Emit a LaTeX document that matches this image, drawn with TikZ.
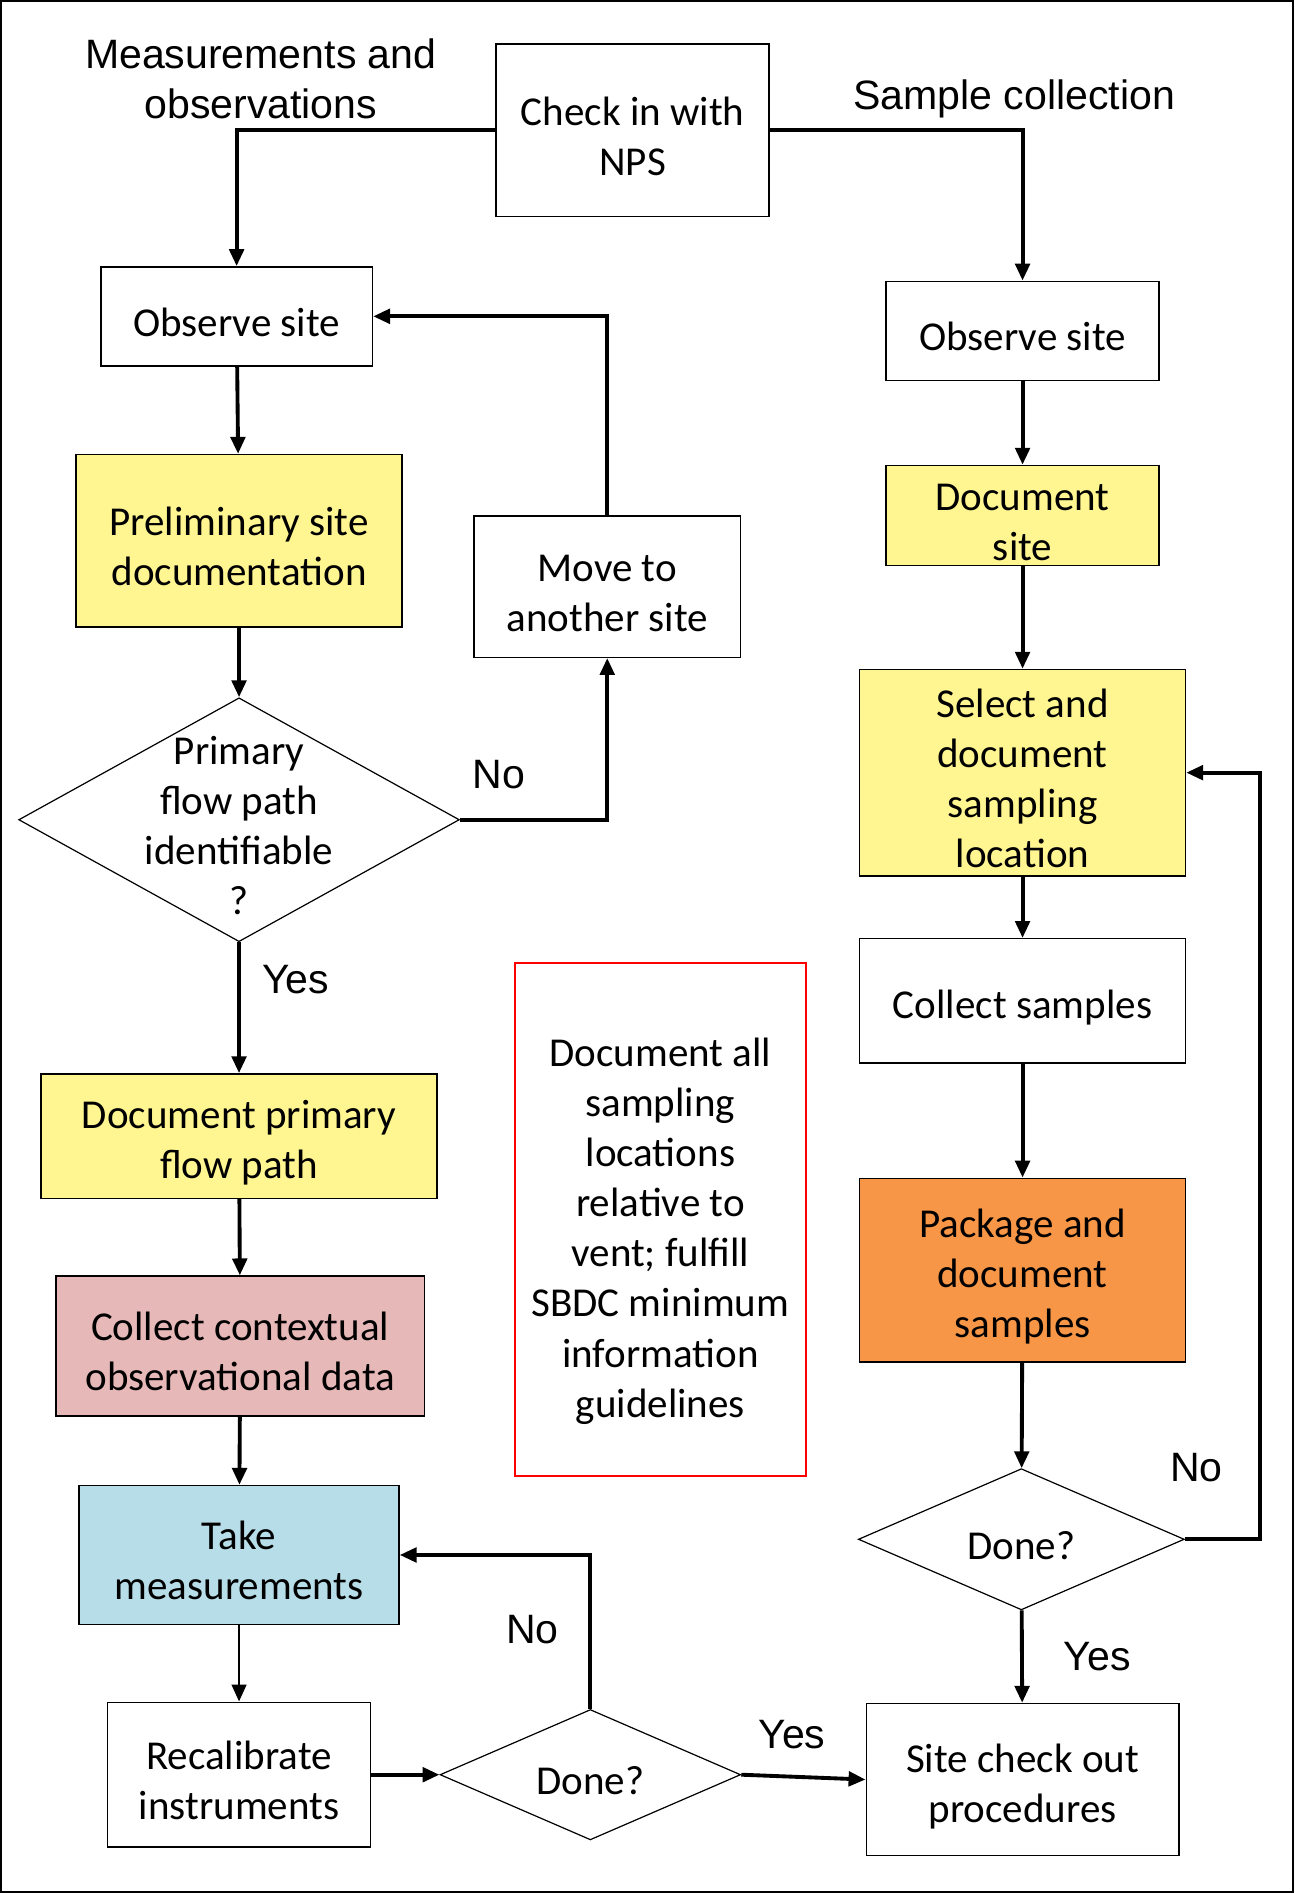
\documentclass[tikz,border=0pt]{standalone}
\usepackage{fontspec}
\setmainfont{Carlito}
\newfontfamily\arialfont{Liberation Sans}
\usetikzlibrary{shapes.geometric, arrows.meta}

\definecolor{noteyellow}{RGB}{255,245,145}
\definecolor{notepink}{RGB}{230,184,183}
\definecolor{noteblue}{RGB}{183,221,232}
\definecolor{noteorange}{RGB}{247,150,70}

\begin{document}
\begin{tikzpicture}[x=0.5pt, y=-0.5pt,
        every node/.style={font=\fontsize{17}{20.75}\selectfont},
        lowered/.style={execute at begin node={\rule{0pt}{#1}}},
        box/.style={draw, line width=0.6pt, align=flush center, inner sep=0pt,
                minimum width=#1, text width=#1, lowered=16.5pt},
        decision/.style={draw, diamond, line width=0.5pt, inner sep=0pt},
        qtext/.style={align=flush center, text width=100pt, lowered=16.5pt},
        tag/.style={font=\arialfont\fontsize{17}{20.75}\selectfont, align=center},
        flow/.style={line width=1.6pt, -{Triangle[length=7pt, width=6pt]}}]
        \useasboundingbox (0,0) rectangle (1072,1568);
        \draw[line width=0.8pt] (1,1) rectangle (1071,1567);

        \node[tag] (lefthead) at (216,65) {Measurements and\\observations};
        \node[tag] (righthead) at (840,82) {Sample collection};

        \node[box=113pt, minimum height=71.5pt] (checkin) at (524,108) {Check in with\\NPS};

        \node[box=112.5pt, minimum height=41pt] (obsL) at (196,262) {Observe site};
        \node[box=135pt, fill=noteyellow, minimum height=71.5pt] (prelim) at (198,448) {Preliminary site\\documentation};
        \node[box=110.5pt, minimum height=58.5pt] (move) at (503,486) {Move to\\another site};
        \node[decision, minimum width=182.5pt, minimum height=101pt,
                label={[qtext]center:Primary\\flow path\\identifiable\\?}] (flowq) at (198,679) {};
        \node[box=164pt, fill=noteyellow, minimum height=51.5pt, lowered=17.5pt] (docflow) at (198,941) {Document primary\\flow path};
        \node[box=152.5pt, fill=notepink, minimum height=58pt] (context) at (199,1115) {Collect contextual\\observational data};
        \node[box=132.5pt, fill=noteblue, minimum height=57.5pt] (measure) at (198,1288) {Take\\measurements};
        \node[box=109pt, minimum height=60pt] (recal) at (198,1470) {Recalibrate\\instruments};
        \node[decision, minimum width=124.5pt, minimum height=54pt, label={[qtext]center:Done?}] (doneL) at (489,1470) {};

        \node[box=120.5pt, draw=red, minimum height=212.5pt, lowered=21.5pt] (note) at (547,1010)
                {Document all\\sampling\\locations\\relative to\\vent; fulfill\\SBDC minimum\\information\\guidelines};

        \node[box=113pt, minimum height=41pt] (obsR) at (847,274) {Observe site};
        \node[box=113pt, fill=noteyellow, minimum height=41.5pt] (docsite) at (847,427) {Document\\site};
        \node[box=135pt, fill=noteyellow, minimum height=85.5pt] (select) at (847,640) {Select and\\document\\sampling\\location};
        \node[box=135pt, minimum height=51.5pt, lowered=17.5pt] (collect) at (847,829) {Collect samples};
        \node[box=135pt, fill=noteorange, minimum height=76pt, lowered=17pt] (package) at (847,1052) {Package and\\document\\samples};
        \node[decision, minimum width=135pt, minimum height=58.5pt, label={[qtext]center:Done?}] (doneR) at (846,1275) {};
        \node[box=129.5pt, minimum height=63pt, lowered=17.5pt] (checkout) at (847,1474) {Site check out\\procedures};

        \coordinate (turnR) at (1044,1275);

        \draw[flow] (checkin.west) -| (obsL.north);
        \draw[flow] (checkin.east) -| (obsR.north);

        \draw[flow] (obsL) -- (prelim);
        \draw[flow] (prelim) -- (flowq);
        \draw[flow] (flowq.east) -| (move.south);
        \draw[flow] (move.north) |- (obsL.east);
        \draw[flow] (flowq) -- (docflow);
        \draw[flow] (docflow) -- (context);
        \draw[flow] (context) -- (measure);
        \draw[flow, line width=1.1pt] (measure) -- (recal);
        \draw[flow] (recal) -- (doneL);
        \draw[flow] (doneL.north) |- (measure.east);
        \draw[flow] (doneL.east) -- (checkout.west);

        \draw[flow] (obsR) -- (docsite);
        \draw[flow] (docsite) -- (select);
        \draw[flow] (select) -- (collect);
        \draw[flow] (collect) -- (package);
        \draw[flow] (package) -- (doneR);
        \draw[flow] (doneR.east) -- (turnR) |- (select.east);
        \draw[flow] (doneR) -- (checkout);

        \node[tag] (noA) at (413,642) {No};
        \node[tag] (yesA) at (245,811) {Yes};
        \node[tag] (noB) at (441,1350) {No};
        \node[tag] (yesB) at (656,1437) {Yes};
        \node[tag] (noC) at (991,1216) {No};
        \node[tag] (yesC) at (909,1372) {Yes};
    \end{tikzpicture}
\end{document}
